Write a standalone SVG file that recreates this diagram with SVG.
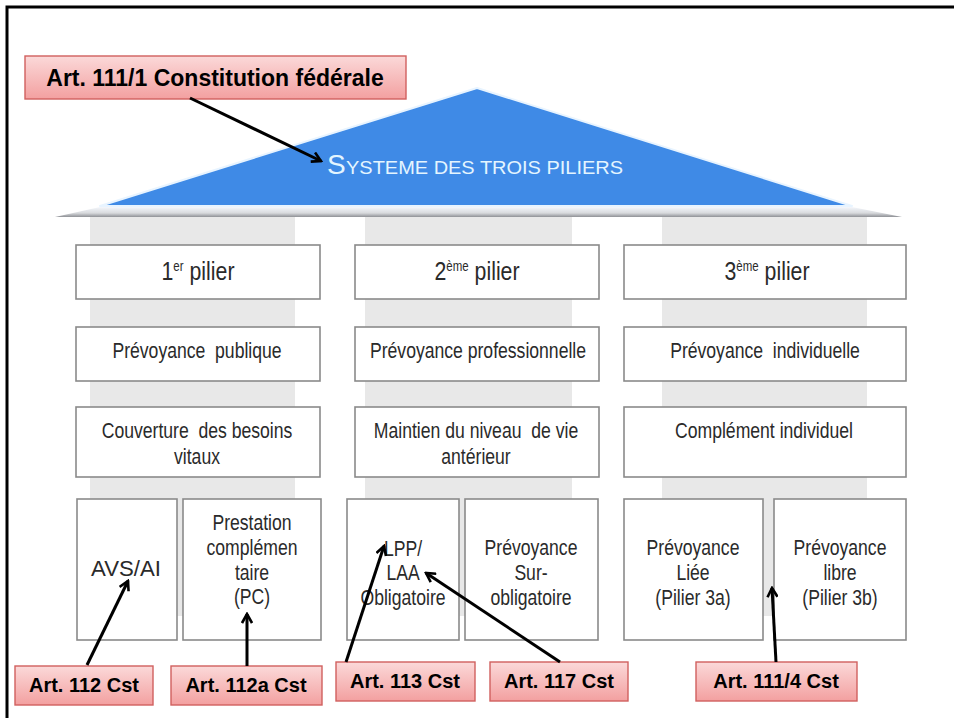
<svg xmlns="http://www.w3.org/2000/svg" width="954" height="718" viewBox="0 0 954 718">
<defs>
<linearGradient id="red" x1="0" y1="0" x2="0" y2="1">
<stop offset="0" stop-color="#fbd9d9"/>
<stop offset="1" stop-color="#f3a0a0"/>
</linearGradient>
<linearGradient id="beam" x1="0" y1="0" x2="0" y2="1">
<stop offset="0" stop-color="#f4f7fc"/>
<stop offset="0.6" stop-color="#d8dadd"/>
<stop offset="1" stop-color="#8f9196"/>
</linearGradient>
<marker id="ah" viewBox="0 0 12 12" refX="10" refY="6" markerWidth="12" markerHeight="12" markerUnits="userSpaceOnUse" orient="auto">
<path d="M1,1 L10,6 L1,11" fill="none" stroke="#000" stroke-width="2.6" stroke-linejoin="miter"/>
</marker>
</defs>
<style>
.box{fill:#fff;stroke:#8a8a8a;stroke-width:1.6}
.col{fill:#e8e8e8}
.lab{fill:url(#red);stroke:#d0605e;stroke-width:1.4}
.lt{font-family:"Liberation Sans",Arial,sans-serif;font-weight:bold;font-size:20px;fill:#000;text-anchor:middle}
.t{font-family:"Liberation Sans",Arial,sans-serif;font-size:22px;fill:#2a2a2a;text-anchor:middle}
.h{font-family:"Liberation Sans",Arial,sans-serif;font-size:26px;fill:#2a2a2a;text-anchor:middle}
.sup{font-size:14px}
.conn{stroke:#000;stroke-width:3;fill:none;marker-end:url(#ah)}
</style>
<rect width="954" height="718" fill="#fff"/>
<rect x="7" y="7" width="970" height="730" fill="none" stroke="#000" stroke-width="3"/>

<!-- columns -->
<rect class="col" x="90" y="216" width="205" height="400"/>
<rect class="col" x="365" y="216" width="207" height="400"/>
<rect class="col" x="662" y="216" width="205" height="400"/>

<!-- roof -->
<g id="roof">
<polygon points="100,206 477,88 852,206" fill="#3f8ae6" stroke="#e8f4ff" stroke-width="2" stroke-linejoin="round"/>
<polygon points="55,217 100,207 852,207 902,217" fill="url(#beam)"/>
<text x="327" y="174" font-family="'Liberation Sans',Arial,sans-serif" font-size="28" fill="#e4f5ff">S</text>
<text x="346" y="174" font-family="'Liberation Sans',Arial,sans-serif" font-size="19" fill="#e4f5ff" textLength="277" lengthAdjust="spacingAndGlyphs">YSTEME DES TROIS PILIERS</text>
</g>

<!-- row 1 -->
<g id="p1">
<rect class="box" x="76" y="245" width="244" height="54"/>
<g transform="translate(198,280) scale(0.82,1)"><text class="h" x="0" y="0">1<tspan class="sup" dy="-9">er</tspan><tspan dy="9"> pilier</tspan></text></g>
</g>
<g id="p2">
<rect class="box" x="355" y="245" width="244" height="54"/>
<g transform="translate(477,280) scale(0.82,1)"><text class="h" x="0" y="0">2<tspan class="sup" dy="-9">ème</tspan><tspan dy="9"> pilier</tspan></text></g>
</g>
<g id="p3">
<rect class="box" x="624" y="245" width="282" height="54"/>
<g transform="translate(767,280) scale(0.82,1)"><text class="h" x="0" y="0">3<tspan class="sup" dy="-9">ème</tspan><tspan dy="9"> pilier</tspan></text></g>
</g>

<!-- row 2 -->
<g id="r2a">
<rect class="box" x="76" y="327" width="244" height="54"/>
<g transform="translate(197,358) scale(0.8,1)"><text class="t" x="0" y="0" xml:space="preserve">Prévoyance  publique</text></g>
</g>
<g id="r2b">
<rect class="box" x="355" y="327" width="244" height="54"/>
<g transform="translate(478,358) scale(0.8,1)"><text class="t" x="0" y="0">Prévoyance professionnelle</text></g>
</g>
<g id="r2c">
<rect class="box" x="624" y="327" width="282" height="54"/>
<g transform="translate(765,358) scale(0.8,1)"><text class="t" x="0" y="0" xml:space="preserve">Prévoyance  individuelle</text></g>
</g>

<!-- row 3 -->
<g id="r3a">
<rect class="box" x="76" y="407" width="244" height="70"/>
<g transform="translate(197,0) scale(0.8,1)"><text class="t" x="0" y="438" xml:space="preserve">Couverture  des besoins</text><text class="t" x="0" y="464">vitaux</text></g>
</g>
<g id="r3b">
<rect class="box" x="355" y="407" width="244" height="70"/>
<g transform="translate(476,0) scale(0.8,1)"><text class="t" x="0" y="438" xml:space="preserve">Maintien du niveau  de vie</text><text class="t" x="0" y="464">antérieur</text></g>
</g>
<g id="r3c">
<rect class="box" x="624" y="407" width="282" height="70"/>
<g transform="translate(764,0) scale(0.8,1)"><text class="t" x="0" y="438">Complément individuel</text></g>
</g>

<!-- row 4 -->
<g id="avs">
<rect class="box" x="77" y="499" width="100" height="141"/>
<text class="t" x="126" y="576" textLength="70" lengthAdjust="spacingAndGlyphs">AVS/AI</text>
</g>
<g id="pc">
<rect class="box" x="183" y="499" width="138" height="141"/>
<g transform="translate(252,0) scale(0.8,1)"><text class="t" x="0" y="530">Prestation</text><text class="t" x="0" y="555">complémen</text><text class="t" x="0" y="580">taire</text><text class="t" x="0" y="604">(PC)</text></g>
</g>
<g id="lpp">
<rect class="box" x="347" y="499" width="112" height="141"/>
<g transform="translate(403,0) scale(0.8,1)"><text class="t" x="0" y="556">LPP/</text><text class="t" x="0" y="580">LAA</text><text class="t" x="0" y="605">Obligatoire</text></g>
</g>
<g id="sur">
<rect class="box" x="465" y="499" width="133" height="141"/>
<g transform="translate(531,0) scale(0.8,1)"><text class="t" x="0" y="555">Prévoyance</text><text class="t" x="0" y="580">Sur-</text><text class="t" x="0" y="605">obligatoire</text></g>
</g>
<g id="liee">
<rect class="box" x="624" y="499" width="139" height="141"/>
<g transform="translate(693,0) scale(0.8,1)"><text class="t" x="0" y="555">Prévoyance</text><text class="t" x="0" y="580">Liée</text><text class="t" x="0" y="605">(Pilier 3a)</text></g>
</g>
<g id="libre">
<rect class="box" x="774" y="499" width="132" height="141"/>
<g transform="translate(840,0) scale(0.8,1)"><text class="t" x="0" y="555">Prévoyance</text><text class="t" x="0" y="580">libre</text><text class="t" x="0" y="605">(Pilier 3b)</text></g>
</g>

<!-- labels -->
<g id="l1111">
<rect class="lab" x="25" y="56" width="381" height="43"/>
<text class="lt" x="215" y="86" style="font-size:23px">Art. 111/1 Constitution fédérale</text>
</g>
<g id="l112">
<rect class="lab" x="15" y="666" width="138" height="39"/>
<text class="lt" x="84" y="692">Art. 112 Cst</text>
</g>
<g id="l112a">
<rect class="lab" x="171" y="666" width="151" height="39"/>
<text class="lt" x="246" y="692">Art. 112a Cst</text>
</g>
<g id="l113">
<rect class="lab" x="336" y="662" width="139" height="39"/>
<text class="lt" x="405" y="688">Art. 113 Cst</text>
</g>
<g id="l117">
<rect class="lab" x="490" y="662" width="138" height="39"/>
<text class="lt" x="559" y="688">Art. 117 Cst</text>
</g>
<g id="l1114">
<rect class="lab" x="696" y="662" width="161" height="39"/>
<text class="lt" x="776" y="688">Art. 111/4 Cst</text>
</g>

<!-- connectors -->
<g id="connectors">
<line class="conn" x1="190" y1="98" x2="321" y2="161"/>
<line class="conn" x1="87" y1="665" x2="128" y2="581"/>
<line class="conn" x1="247" y1="666" x2="247" y2="614"/>
<line class="conn" x1="346" y1="662" x2="384" y2="546"/>
<line class="conn" x1="560" y1="662" x2="426" y2="573"/>
<line class="conn" x1="776" y1="662" x2="772" y2="588"/>
</g>
</svg>
